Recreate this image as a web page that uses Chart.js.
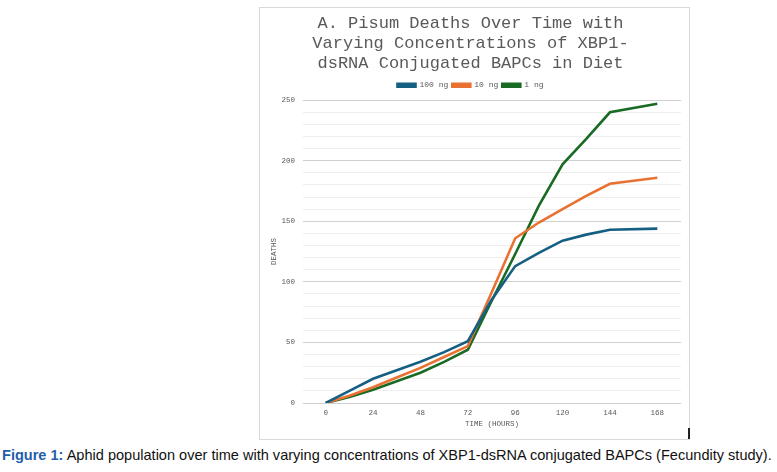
<!DOCTYPE html>
<html><head><meta charset="utf-8">
<script src="https://cdn.jsdelivr.net/npm/chart.js@4.4.1/dist/chart.umd.min.js"></script>
<style>
html,body{margin:0;padding:0;background:#fff;width:777px;height:472px;overflow:hidden;}
#box{position:absolute;left:259px;top:7px;width:429px;height:431px;border:1px solid #d9d9d9;}
#mark{position:absolute;left:688px;top:428px;width:2px;height:11px;background:#222;}
#cap{position:absolute;left:2px;top:446px;white-space:nowrap;font-family:"Liberation Sans Narrow","Arial Narrow","Liberation Sans",Arial,sans-serif;font-size:15px;color:#111;transform-origin:0 0;}
#cap b{color:#1f5ea8;}
</style></head><body>
<div id="box"><canvas id="c"></canvas></div>
<div id="mark"></div>
<div id="cap"><b>Figure 1:</b> Aphid population over time with varying concentrations of XBP1-dsRNA conjugated BAPCs (Fecundity study).</div>
<script>
const hours = [0, 12, 24, 36, 48, 60, 72, 84, 96, 108, 120, 132, 144, 168];
const deaths100ng = [0, 10, 20, 27, 34, 42, 51, 85, 113, 124, 134, 139, 143, 144];
const deaths10ng  = [0, 6, 13, 21, 29, 38, 47, 91, 136, 149, 160, 171, 181, 186];
const deaths1ng   = [0, 5, 11, 18, 25, 34, 44, 84, 123, 163, 197, 218, 240, 247];
const xTicks = [0, 24, 48, 72, 96, 120, 144, 168];
const seriesNames = ['100 ng', '10 ng', '1 ng'];
const colors = ['#156082', '#E97132', '#196B24'];

const cap = document.getElementById('cap');
cap.style.transform = 'scaleX(' + (770 / cap.offsetWidth) + ')';

const mono = '"Liberation Mono","Courier New",monospace';
const toXY = arr => arr.map((v, i) => ({x: hours[i], y: v}));
const datasets = [deaths100ng, deaths10ng, deaths1ng].map((d, i) => ({
  label: seriesNames[i], data: toXY(d), borderColor: colors[i], backgroundColor: colors[i],
  borderWidth: 2.6, pointRadius: 0, tension: 0, fill: false
}));

const legendTrim = {
  id: 'legendTrim',
  beforeInit(chart) {
    const l = chart.legend;
    if (!l) return;
    const f = l.fit.bind(l);
    l.fit = function () { f(); this.height += 1; };
  }
};

new Chart(document.getElementById('c'), {
  type: 'line',
  data: {datasets},
  plugins: [legendTrim],
  options: {
    responsive: true, maintainAspectRatio: false, animation: false,
    layout: {padding: {left: 0, right: 8, top: 4, bottom: 10}},
    plugins: {
      title: {display: true, text: ['A. Pisum Deaths Over Time with', 'Varying Concentrations of XBP1-', 'dsRNA Conjugated BAPCs in Diet'],
        color: '#595959', font: {family: mono, size: 17, weight: 'normal', lineHeight: 1.18}, padding: {top: 1, bottom: 4}},
      legend: {display: true, labels: {color: '#595959', font: {family: mono, size: 8}, boxWidth: 18, boxHeight: 3, padding: 4}},
      tooltip: {enabled: false}
    },
    scales: {
      x: {type: 'linear', min: -11.5, max: 180,
        afterBuildTicks: s => { s.ticks = xTicks.map(v => ({value: v})); },
        grid: {display: false, drawTicks: false}, border: {display: false},
        ticks: {color: '#595959', font: {family: mono, size: 7.5}, padding: 6, maxRotation: 0, autoSkip: false},
        title: {display: true, text: 'TIME (HOURS)', color: '#595959', font: {family: mono, size: 7.5}, padding: {top: -4, bottom: 0}}
      },
      y: {min: 0, max: 250,
        afterFit: s => { s.width = 43; },
        ticks: {stepSize: 10, autoSkip: false, color: '#595959', font: {family: mono, size: 7.5}, padding: 8,
          callback: v => (v % 50 === 0 ? v : '')},
        grid: {color: c => (c.tick && c.tick.value % 50 === 0 ? '#d0d0d0' : '#eeeeee'), lineWidth: 1, drawTicks: false},
        border: {display: false},
        title: {display: true, text: 'DEATHS', color: '#595959', font: {family: mono, size: 7.5}, padding: {top: 10, bottom: 0}}
      }
    }
  }
});
</script>
</body></html>
